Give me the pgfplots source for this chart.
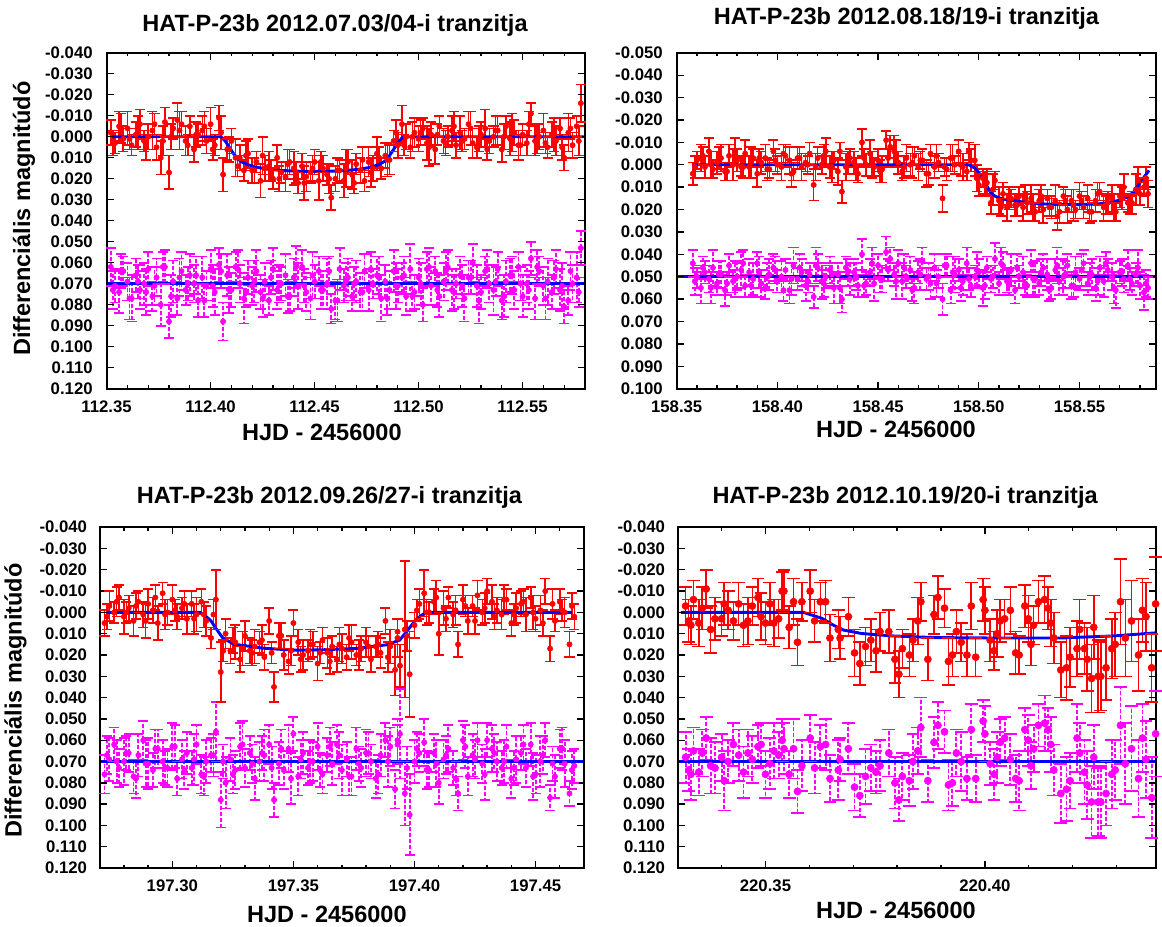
\documentclass[border=0pt]{standalone}
\usepackage{fontspec}
\setmainfont{Liberation Sans}
\usepackage{pgfplots}
\usepackage{pgfplotstable}
\pgfplotsset{compat=1.18}

\definecolor{pred}{RGB}{255,0,0}
\definecolor{pmag}{RGB}{255,0,255}
\definecolor{pblue}{RGB}{0,0,255}

\pgfplotstableread{
x r re m me
112.352 -0.002 0.006 0.062 0.009
112.354 0.003 0.005 0.071 0.008
112.356 -0.005 0.007 0.074 0.010
112.358 0.001 0.006 0.064 0.007
112.360 -0.004 0.008 0.069 0.009
112.362 0.004 0.005 0.077 0.011
112.364 -0.001 0.006 0.066 0.008
112.366 -0.006 0.007 0.073 0.009
112.368 0.002 0.005 0.070 0.010
112.370 0.000 0.006 0.063 0.008
112.372 -0.003 0.009 0.076 0.007
112.374 0.005 0.006 0.067 0.009
112.376 0.010 0.008 0.080 0.010
112.378 -0.007 0.007 0.062 0.008
112.380 0.017 0.008 0.088 0.008
112.382 -0.004 0.005 0.069 0.010
112.384 -0.008 0.008 0.077 0.008
112.386 -0.006 0.006 0.064 0.009
112.388 0.002 0.007 0.073 0.007
112.390 -0.005 0.005 0.066 0.010
112.392 0.006 0.006 0.070 0.009
112.394 -0.001 0.005 0.078 0.008
112.396 -0.003 0.007 0.067 0.010
112.398 0.002 0.006 0.071 0.007
112.400 -0.006 0.008 0.063 0.009
112.402 0.004 0.005 0.074 0.011
112.404 -0.009 0.006 0.061 0.008
112.406 0.018 0.008 0.088 0.009
112.408 0.006 0.005 0.066 0.010
112.410 0.002 0.006 0.073 0.008
112.412 0.010 0.009 0.062 0.007
112.414 0.010 0.006 0.070 0.009
112.416 0.016 0.005 0.077 0.012
112.418 0.008 0.007 0.067 0.008
112.420 0.016 0.006 0.071 0.009
112.422 0.012 0.005 0.064 0.010
112.424 0.021 0.008 0.074 0.008
112.426 0.015 0.006 0.069 0.009
112.428 0.014 0.007 0.078 0.007
112.430 0.020 0.005 0.063 0.010
112.432 0.010 0.006 0.073 0.009
112.434 0.017 0.005 0.070 0.008
112.436 0.019 0.007 0.066 0.010
112.438 0.012 0.006 0.076 0.007
112.440 0.015 0.008 0.067 0.009
112.442 0.022 0.005 0.071 0.011
112.444 0.014 0.006 0.062 0.008
112.446 0.019 0.007 0.074 0.009
112.448 0.017 0.005 0.077 0.010
112.450 0.012 0.006 0.069 0.008
112.452 0.021 0.009 0.064 0.007
112.454 0.015 0.006 0.073 0.009
112.456 0.018 0.005 0.070 0.012
112.458 0.029 0.006 0.082 0.007
112.460 0.020 0.006 0.078 0.009
112.462 0.016 0.005 0.063 0.010
112.464 0.021 0.008 0.071 0.008
112.466 0.012 0.006 0.067 0.009
112.468 0.018 0.007 0.076 0.007
112.470 0.013 0.005 0.069 0.010
112.472 0.016 0.006 0.074 0.009
112.474 0.021 0.005 0.064 0.008
112.476 0.012 0.007 0.073 0.010
112.478 0.015 0.006 0.070 0.007
112.480 0.008 0.008 0.066 0.009
112.482 0.015 0.005 0.077 0.011
112.484 0.009 0.006 0.069 0.008
112.486 0.011 0.007 0.073 0.009
112.488 0.002 0.005 0.064 0.010
112.490 0.004 0.006 0.071 0.008
112.492 -0.006 0.009 0.067 0.007
112.494 0.000 0.006 0.076 0.009
112.496 0.005 0.005 0.063 0.012
112.498 -0.002 0.007 0.074 0.008
112.500 0.001 0.006 0.067 0.009
112.502 -0.004 0.005 0.080 0.008
112.504 0.003 0.008 0.063 0.008
112.506 -0.001 0.006 0.071 0.009
112.508 0.006 0.007 0.064 0.007
112.510 -0.005 0.005 0.076 0.010
112.512 0.002 0.006 0.069 0.009
112.514 0.000 0.005 0.062 0.008
112.516 -0.003 0.007 0.073 0.010
112.518 0.004 0.006 0.070 0.007
112.520 -0.002 0.008 0.066 0.009
112.522 0.001 0.005 0.077 0.011
112.524 -0.006 0.006 0.067 0.008
112.526 0.003 0.007 0.060 0.009
112.528 0.005 0.005 0.071 0.010
112.530 -0.001 0.006 0.074 0.008
112.532 -0.004 0.009 0.064 0.007
112.534 0.002 0.006 0.070 0.009
112.536 0.000 0.005 0.073 0.012
112.538 -0.003 0.007 0.063 0.008
112.540 0.006 0.006 0.078 0.009
112.542 -0.005 0.005 0.069 0.010
112.544 0.001 0.008 0.066 0.008
112.546 -0.002 0.006 0.073 0.009
112.548 0.004 0.007 0.062 0.007
112.550 -0.001 0.005 0.076 0.010
112.552 0.003 0.006 0.070 0.009
112.554 -0.011 0.005 0.058 0.008
112.556 0.002 0.007 0.077 0.010
112.558 0.000 0.006 0.064 0.007
112.560 -0.003 0.008 0.071 0.009
112.562 0.005 0.005 0.069 0.011
112.564 -0.001 0.006 0.074 0.008
112.566 0.002 0.007 0.063 0.009
112.568 -0.004 0.005 0.073 0.010
112.570 0.010 0.006 0.081 0.008
112.572 -0.002 0.009 0.078 0.007
112.574 0.004 0.006 0.070 0.009
112.576 -0.005 0.005 0.067 0.012
112.578 -0.016 0.009 0.053 0.008
112.353 0.003 0.006 0.073 0.009
112.357 -0.004 0.007 0.064 0.008
112.361 0.001 0.005 0.077 0.010
112.365 -0.002 0.008 0.069 0.008
112.369 0.005 0.006 0.074 0.011
112.373 -0.006 0.005 0.071 0.009
112.377 0.002 0.007 0.062 0.007
112.381 0.000 0.006 0.076 0.010
112.385 -0.003 0.009 0.067 0.009
112.389 0.004 0.005 0.070 0.008
112.393 -0.001 0.006 0.066 0.009
112.397 -0.005 0.007 0.078 0.008
112.401 0.006 0.005 0.071 0.010
112.405 -0.002 0.008 0.064 0.008
112.409 0.006 0.006 0.073 0.011
112.413 0.014 0.005 0.063 0.009
112.417 0.009 0.007 0.074 0.007
112.421 0.016 0.006 0.069 0.010
112.425 0.009 0.009 0.077 0.009
112.429 0.016 0.005 0.067 0.008
112.433 0.020 0.006 0.070 0.009
112.437 0.013 0.007 0.076 0.008
112.441 0.017 0.005 0.062 0.010
112.445 0.022 0.008 0.071 0.008
112.449 0.015 0.006 0.066 0.011
112.453 0.012 0.005 0.073 0.009
112.457 0.020 0.007 0.064 0.007
112.461 0.016 0.006 0.078 0.010
112.465 0.015 0.009 0.069 0.009
112.469 0.022 0.005 0.070 0.008
112.473 0.011 0.006 0.074 0.009
112.477 0.017 0.007 0.063 0.008
112.481 0.010 0.005 0.067 0.010
112.485 0.011 0.008 0.077 0.008
112.489 -0.002 0.006 0.071 0.011
112.493 0.004 0.005 0.066 0.009
112.497 0.000 0.007 0.076 0.007
112.501 -0.002 0.006 0.070 0.010
112.505 0.005 0.009 0.062 0.009
112.509 -0.001 0.005 0.073 0.008
112.513 0.003 0.006 0.064 0.009
112.517 -0.005 0.007 0.074 0.008
112.521 0.002 0.005 0.071 0.010
112.525 -0.004 0.008 0.067 0.008
112.529 0.001 0.006 0.078 0.011
112.533 0.006 0.005 0.063 0.009
112.537 -0.003 0.007 0.069 0.007
112.541 0.000 0.006 0.076 0.010
112.545 -0.002 0.009 0.066 0.009
112.549 0.004 0.005 0.070 0.008
112.553 -0.006 0.006 0.073 0.009
112.557 0.001 0.007 0.062 0.008
112.561 0.003 0.005 0.077 0.010
112.565 -0.001 0.008 0.067 0.008
112.569 0.005 0.006 0.071 0.011
112.573 -0.004 0.005 0.064 0.009
112.577 0.002 0.007 0.074 0.007
}\dataA

\pgfplotstableread{
x r re m me
158.358 0.004 0.005 0.044 0.006
158.360 -0.002 0.004 0.050 0.005
158.362 -0.003 0.006 0.055 0.007
158.364 0.001 0.005 0.048 0.005
158.366 -0.006 0.006 0.051 0.006
158.368 0.002 0.004 0.046 0.008
158.370 -0.001 0.005 0.053 0.005
158.372 -0.003 0.006 0.049 0.006
158.374 0.003 0.004 0.056 0.007
158.376 -0.004 0.005 0.045 0.005
158.378 0.000 0.007 0.052 0.005
158.380 -0.002 0.005 0.050 0.006
158.382 0.001 0.004 0.047 0.008
158.384 -0.005 0.006 0.054 0.005
158.386 0.001 0.005 0.048 0.006
158.388 -0.003 0.004 0.051 0.007
158.390 0.004 0.006 0.044 0.005
158.392 -0.001 0.005 0.053 0.006
158.394 -0.003 0.006 0.055 0.005
158.396 0.002 0.004 0.049 0.007
158.398 -0.006 0.005 0.046 0.006
158.400 0.000 0.004 0.052 0.005
158.402 0.001 0.006 0.050 0.007
158.404 -0.004 0.005 0.047 0.005
158.406 -0.002 0.006 0.056 0.006
158.408 0.003 0.004 0.045 0.008
158.410 -0.003 0.005 0.051 0.005
158.412 0.001 0.006 0.048 0.006
158.414 -0.001 0.004 0.054 0.007
158.416 -0.005 0.005 0.049 0.005
158.418 0.009 0.007 0.059 0.005
158.420 -0.003 0.005 0.046 0.006
158.422 0.000 0.004 0.052 0.008
158.424 -0.006 0.006 0.050 0.005
158.426 0.001 0.005 0.047 0.006
158.428 -0.002 0.004 0.055 0.007
158.430 0.003 0.006 0.049 0.005
158.432 0.012 0.005 0.060 0.006
158.434 0.001 0.006 0.046 0.005
158.436 -0.003 0.004 0.051 0.007
158.438 -0.001 0.005 0.048 0.006
158.440 0.004 0.004 0.054 0.005
158.442 -0.010 0.006 0.040 0.007
158.444 0.000 0.005 0.053 0.005
158.446 -0.005 0.006 0.048 0.006
158.448 0.001 0.004 0.053 0.008
158.450 -0.002 0.005 0.045 0.005
158.452 0.002 0.006 0.051 0.006
158.454 -0.011 0.004 0.039 0.007
158.456 -0.008 0.005 0.042 0.005
158.458 -0.006 0.007 0.049 0.005
158.460 -0.001 0.005 0.044 0.006
158.462 0.003 0.004 0.052 0.008
158.464 -0.003 0.006 0.050 0.005
158.466 0.000 0.005 0.047 0.006
158.468 -0.004 0.004 0.055 0.007
158.470 0.001 0.006 0.048 0.005
158.472 -0.002 0.005 0.043 0.006
158.474 0.004 0.006 0.051 0.005
158.476 -0.005 0.004 0.053 0.007
158.478 0.001 0.005 0.046 0.006
158.480 -0.001 0.004 0.050 0.005
158.482 0.015 0.006 0.060 0.007
158.484 0.002 0.005 0.045 0.005
158.486 -0.003 0.006 0.056 0.006
158.488 0.000 0.004 0.049 0.008
158.490 -0.006 0.005 0.047 0.005
158.492 0.001 0.006 0.052 0.006
158.494 0.003 0.004 0.044 0.007
158.496 -0.002 0.005 0.054 0.005
158.498 -0.002 0.007 0.050 0.005
158.500 0.009 0.005 0.048 0.006
158.502 0.006 0.004 0.055 0.008
158.504 0.008 0.006 0.046 0.005
158.506 0.017 0.005 0.051 0.006
158.508 0.007 0.004 0.042 0.007
158.510 0.016 0.006 0.053 0.005
158.512 0.013 0.005 0.045 0.006
158.514 0.019 0.006 0.052 0.005
158.516 0.015 0.004 0.047 0.007
158.518 0.018 0.005 0.056 0.006
158.520 0.014 0.004 0.050 0.005
158.522 0.019 0.006 0.048 0.007
158.524 0.017 0.005 0.054 0.005
158.526 0.015 0.006 0.044 0.006
158.528 0.021 0.004 0.051 0.008
158.530 0.016 0.005 0.053 0.005
158.532 0.020 0.006 0.046 0.006
158.534 0.015 0.004 0.049 0.007
158.536 0.019 0.005 0.055 0.005
158.538 0.016 0.007 0.047 0.005
158.540 0.021 0.005 0.052 0.006
158.542 0.014 0.004 0.050 0.008
158.544 0.020 0.006 0.045 0.005
158.546 0.016 0.005 0.054 0.006
158.548 0.020 0.004 0.048 0.007
158.550 0.014 0.006 0.051 0.005
158.552 0.019 0.005 0.044 0.006
158.554 0.015 0.006 0.053 0.005
158.556 0.021 0.004 0.049 0.007
158.558 0.016 0.005 0.055 0.006
158.560 0.012 0.004 0.046 0.005
158.562 0.019 0.006 0.052 0.007
158.564 0.017 0.005 0.047 0.005
158.566 0.015 0.006 0.050 0.006
158.568 0.021 0.004 0.056 0.008
158.570 0.014 0.005 0.048 0.005
158.572 0.010 0.006 0.051 0.006
158.574 0.017 0.004 0.045 0.007
158.576 0.017 0.005 0.053 0.005
158.578 0.011 0.007 0.049 0.005
158.580 0.013 0.005 0.054 0.006
158.582 0.010 0.004 0.057 0.008
158.584 0.013 0.006 0.055 0.005
158.359 0.001 0.005 0.052 0.006
158.363 -0.004 0.004 0.046 0.005
158.367 0.000 0.006 0.055 0.007
158.371 -0.003 0.005 0.049 0.006
158.375 0.003 0.004 0.053 0.005
158.379 -0.006 0.006 0.051 0.008
158.383 0.001 0.005 0.044 0.006
158.387 -0.001 0.007 0.054 0.005
158.391 -0.003 0.004 0.048 0.007
158.395 0.002 0.005 0.050 0.006
158.399 -0.002 0.005 0.047 0.006
158.403 -0.005 0.004 0.056 0.005
158.407 0.004 0.006 0.051 0.007
158.411 -0.003 0.005 0.046 0.006
158.415 0.000 0.004 0.052 0.005
158.419 0.001 0.006 0.045 0.008
158.423 -0.004 0.005 0.053 0.006
158.427 0.001 0.007 0.049 0.005
158.431 -0.006 0.004 0.055 0.007
158.435 -0.001 0.005 0.048 0.006
158.439 0.002 0.005 0.050 0.006
158.443 -0.003 0.004 0.054 0.005
158.447 0.000 0.006 0.044 0.007
158.451 0.003 0.005 0.051 0.006
158.455 -0.003 0.004 0.047 0.005
158.459 -0.005 0.006 0.052 0.008
158.463 0.001 0.005 0.046 0.006
158.467 -0.001 0.007 0.056 0.005
158.471 -0.002 0.004 0.049 0.007
158.475 0.004 0.005 0.050 0.006
158.479 -0.004 0.005 0.053 0.006
158.483 0.001 0.004 0.045 0.005
158.487 -0.003 0.006 0.048 0.007
158.491 0.000 0.005 0.055 0.006
158.495 -0.006 0.004 0.051 0.005
158.499 0.006 0.006 0.047 0.008
158.503 0.008 0.005 0.054 0.006
158.507 0.011 0.007 0.050 0.005
158.511 0.019 0.004 0.044 0.007
158.515 0.015 0.005 0.052 0.006
158.519 0.018 0.005 0.046 0.006
158.523 0.013 0.004 0.053 0.005
158.527 0.019 0.006 0.051 0.007
158.531 0.014 0.005 0.048 0.006
158.535 0.019 0.004 0.056 0.005
158.539 0.023 0.006 0.045 0.008
158.543 0.016 0.005 0.049 0.006
158.547 0.018 0.007 0.054 0.005
158.551 0.016 0.004 0.047 0.007
158.555 0.021 0.005 0.050 0.006
158.559 0.013 0.005 0.052 0.006
158.563 0.018 0.004 0.044 0.005
158.567 0.019 0.006 0.055 0.007
158.571 0.015 0.005 0.048 0.006
158.575 0.018 0.004 0.051 0.005
158.579 0.007 0.006 0.046 0.008
158.583 0.006 0.005 0.053 0.006
}\dataB

\pgfplotstableread{
x r re m me
197.272 0.005 0.006 0.076 0.009
197.274 -0.003 0.007 0.069 0.010
197.276 0.000 0.005 0.062 0.008
197.278 -0.007 0.006 0.073 0.009
197.280 0.002 0.008 0.070 0.011
197.282 -0.002 0.006 0.066 0.009
197.284 0.004 0.007 0.077 0.008
197.286 -0.005 0.005 0.067 0.010
197.288 0.001 0.006 0.060 0.009
197.290 -0.004 0.007 0.071 0.012
197.292 -0.001 0.006 0.074 0.008
197.294 0.005 0.008 0.064 0.009
197.296 -0.009 0.005 0.070 0.010
197.298 0.000 0.006 0.073 0.009
197.300 -0.006 0.007 0.063 0.011
197.302 0.002 0.006 0.078 0.008
197.304 -0.002 0.005 0.069 0.009
197.306 0.003 0.007 0.066 0.010
197.308 -0.004 0.006 0.073 0.008
197.310 0.001 0.008 0.062 0.009
197.312 -0.005 0.006 0.076 0.009
197.314 0.004 0.007 0.070 0.010
197.316 0.012 0.005 0.067 0.008
197.318 -0.006 0.014 0.056 0.014
197.320 0.028 0.014 0.088 0.013
197.322 0.010 0.007 0.080 0.012
197.324 0.018 0.006 0.069 0.010
197.326 0.014 0.008 0.074 0.009
197.328 0.022 0.006 0.063 0.011
197.330 0.011 0.007 0.073 0.009
197.332 0.018 0.006 0.066 0.008
197.334 0.016 0.008 0.078 0.010
197.336 0.014 0.005 0.070 0.009
197.338 0.021 0.006 0.067 0.012
197.340 0.004 0.006 0.062 0.009
197.342 0.035 0.007 0.088 0.008
197.344 0.011 0.006 0.071 0.010
197.346 0.020 0.007 0.074 0.009
197.348 0.023 0.006 0.064 0.011
197.350 0.005 0.006 0.057 0.008
197.352 0.014 0.006 0.077 0.009
197.354 0.020 0.007 0.066 0.010
197.356 0.018 0.005 0.073 0.008
197.358 0.015 0.006 0.070 0.009
197.360 0.024 0.008 0.063 0.011
197.362 0.013 0.006 0.076 0.009
197.364 0.019 0.007 0.067 0.008
197.366 0.016 0.005 0.071 0.010
197.368 0.022 0.006 0.062 0.009
197.370 0.017 0.007 0.074 0.012
197.372 0.021 0.006 0.069 0.008
197.374 0.014 0.008 0.077 0.009
197.376 0.020 0.005 0.064 0.010
197.378 0.017 0.006 0.073 0.009
197.380 0.014 0.007 0.066 0.011
197.382 0.022 0.006 0.070 0.008
197.384 0.016 0.005 0.078 0.009
197.386 0.019 0.007 0.067 0.010
197.388 0.004 0.006 0.060 0.008
197.390 0.016 0.008 0.063 0.009
197.392 0.027 0.012 0.083 0.009
197.393 0.012 0.009 0.060 0.010
197.394 0.025 0.010 0.057 0.021
197.396 0.008 0.032 0.085 0.015
197.398 0.029 0.020 0.095 0.019
197.400 0.006 0.006 0.070 0.010
197.402 -0.004 0.007 0.066 0.009
197.404 -0.009 0.011 0.061 0.011
197.406 0.000 0.005 0.074 0.008
197.408 -0.005 0.006 0.066 0.009
197.410 0.010 0.010 0.080 0.010
197.412 -0.002 0.008 0.069 0.009
197.414 -0.007 0.005 0.064 0.011
197.416 0.001 0.006 0.073 0.008
197.418 0.015 0.006 0.085 0.008
197.420 -0.006 0.007 0.060 0.009
197.422 0.004 0.006 0.077 0.009
197.424 -0.003 0.005 0.067 0.010
197.426 -0.008 0.007 0.060 0.008
197.428 0.000 0.006 0.071 0.009
197.430 -0.010 0.006 0.060 0.008
197.432 -0.005 0.008 0.064 0.011
197.434 -0.001 0.006 0.070 0.009
197.436 0.001 0.007 0.073 0.008
197.438 -0.006 0.005 0.063 0.010
197.440 0.005 0.006 0.078 0.009
197.442 -0.002 0.007 0.069 0.011
197.444 -0.004 0.006 0.066 0.008
197.446 0.001 0.008 0.073 0.009
197.448 -0.007 0.005 0.062 0.010
197.450 0.003 0.006 0.076 0.009
197.452 -0.001 0.007 0.070 0.012
197.454 -0.010 0.006 0.060 0.008
197.456 0.017 0.006 0.087 0.006
197.458 0.004 0.005 0.077 0.010
197.460 -0.005 0.006 0.064 0.009
197.462 0.000 0.007 0.071 0.011
197.464 0.015 0.006 0.085 0.006
197.466 0.002 0.006 0.072 0.008
197.273 0.002 0.006 0.067 0.009
197.277 -0.005 0.007 0.070 0.010
197.281 0.000 0.005 0.066 0.008
197.285 -0.003 0.006 0.078 0.009
197.289 0.004 0.008 0.071 0.011
197.293 -0.007 0.006 0.064 0.009
197.297 0.001 0.007 0.073 0.008
197.301 -0.001 0.005 0.063 0.010
197.305 -0.004 0.006 0.074 0.009
197.309 0.003 0.007 0.069 0.012
197.313 0.001 0.006 0.077 0.009
197.317 0.001 0.007 0.067 0.010
197.321 0.018 0.005 0.070 0.008
197.325 0.013 0.006 0.076 0.009
197.329 0.017 0.008 0.062 0.011
197.333 0.019 0.006 0.071 0.009
197.337 0.013 0.007 0.066 0.008
197.341 0.019 0.005 0.073 0.010
197.345 0.011 0.006 0.064 0.009
197.349 0.018 0.007 0.078 0.012
197.353 0.022 0.006 0.069 0.009
197.357 0.015 0.007 0.070 0.010
197.361 0.019 0.005 0.074 0.008
197.365 0.023 0.006 0.063 0.009
197.369 0.015 0.008 0.067 0.011
197.373 0.012 0.006 0.077 0.009
197.377 0.020 0.007 0.071 0.008
197.381 0.016 0.005 0.066 0.010
197.385 0.015 0.006 0.076 0.009
197.389 0.021 0.007 0.070 0.012
197.393 0.009 0.006 0.062 0.009
197.397 0.011 0.007 0.073 0.010
197.401 -0.001 0.005 0.064 0.008
197.405 0.000 0.006 0.074 0.009
197.409 -0.007 0.008 0.071 0.011
197.413 0.003 0.006 0.067 0.009
197.417 -0.001 0.007 0.078 0.008
197.421 -0.003 0.005 0.063 0.010
197.425 0.004 0.006 0.069 0.009
197.429 -0.002 0.007 0.076 0.012
197.433 0.002 0.006 0.066 0.009
197.437 -0.006 0.007 0.070 0.010
197.441 0.001 0.005 0.073 0.008
197.445 -0.005 0.006 0.062 0.009
197.449 0.000 0.008 0.077 0.011
197.453 0.005 0.006 0.067 0.009
197.457 -0.004 0.007 0.071 0.008
197.461 -0.001 0.005 0.064 0.010
197.465 -0.003 0.006 0.074 0.009
}\dataC

\pgfplotstableread{
x r re m me
220.3318 -0.003 0.009 0.068 0.012
220.3325 0.004 0.010 0.074 0.010
220.3336 -0.006 0.009 0.065 0.011
220.3348 0.005 0.011 0.075 0.011
220.3365 -0.011 0.009 0.059 0.010
220.3385 0.003 0.010 0.073 0.012
220.3400 0.003 0.008 0.068 0.011
220.3406 -0.004 0.010 0.079 0.014
220.3427 0.004 0.009 0.062 0.010
220.3439 -0.004 0.010 0.067 0.012
220.3460 0.004 0.011 0.066 0.011
220.3483 -0.007 0.009 0.063 0.010
220.3500 0.005 0.010 0.076 0.011
220.3519 0.005 0.011 0.065 0.013
220.3538 -0.010 0.009 0.060 0.010
220.3542 -0.010 0.010 0.064 0.012
220.3554 0.007 0.010 0.076 0.011
220.3564 -0.005 0.011 0.064 0.014
220.3573 0.014 0.011 0.084 0.010
220.3583 -0.005 0.009 0.072 0.012
220.3602 -0.010 0.010 0.059 0.011
220.3625 -0.005 0.009 0.063 0.010
220.3637 -0.005 0.010 0.062 0.012
220.3647 0.012 0.011 0.078 0.011
220.3666 0.008 0.009 0.074 0.014
220.3670 0.012 0.010 0.069 0.010
220.3689 0.002 0.009 0.064 0.012
220.3703 0.019 0.011 0.082 0.011
220.3715 0.024 0.010 0.086 0.010
220.3728 0.016 0.009 0.077 0.013
220.3752 0.018 0.010 0.075 0.010
220.3761 0.009 0.009 0.072 0.012
220.3781 0.009 0.010 0.066 0.011
220.3804 0.029 0.011 0.088 0.010
220.3812 0.017 0.009 0.077 0.011
220.3828 0.020 0.010 0.079 0.012
220.3847 0.004 0.011 0.065 0.011
220.3854 -0.005 0.009 0.054 0.014
220.3870 0.022 0.010 0.079 0.010
220.3884 0.001 0.009 0.061 0.012
220.3893 -0.007 0.010 0.053 0.011
220.3908 -0.002 0.009 0.056 0.010
220.3917 0.023 0.011 0.081 0.012
220.3926 0.020 0.010 0.080 0.011
220.3946 0.014 0.009 0.070 0.014
220.3959 0.020 0.010 0.078 0.010
220.3969 -0.003 0.011 0.055 0.012
220.3979 0.021 0.009 0.078 0.011
220.3996 -0.006 0.010 0.051 0.010
220.4000 -0.001 0.011 0.057 0.013
220.4012 0.013 0.010 0.071 0.010
220.4021 0.018 0.009 0.076 0.012
220.4035 0.004 0.010 0.061 0.011
220.4045 0.003 0.009 0.059 0.010
220.4058 -0.001 0.011 0.069 0.012
220.4070 0.019 0.010 0.078 0.011
220.4078 0.020 0.009 0.079 0.014
220.4091 -0.003 0.010 0.055 0.010
220.4099 0.003 0.011 0.060 0.012
220.4111 0.006 0.009 0.064 0.011
220.4122 -0.005 0.010 0.053 0.010
220.4136 -0.006 0.011 0.052 0.013
220.4144 -0.002 0.010 0.055 0.010
220.4157 0.012 0.012 0.074 0.012
220.4173 0.027 0.013 0.085 0.014
220.4186 0.026 0.015 0.083 0.015
220.4194 0.021 0.014 0.079 0.013
220.4210 0.017 0.013 0.059 0.016
220.4216 0.008 0.014 0.066 0.014
220.4227 0.017 0.012 0.075 0.015
220.4243 0.031 0.016 0.089 0.017
220.4248 0.007 0.015 0.068 0.015
220.4258 0.030 0.017 0.089 0.016
220.4264 0.030 0.016 0.089 0.017
220.4276 0.026 0.015 0.085 0.015
220.4289 0.017 0.014 0.076 0.016
220.4297 0.015 0.015 0.074 0.014
220.4309 -0.005 0.020 0.053 0.018
220.4334 0.004 0.019 0.064 0.020
220.4359 -0.001 0.015 0.059 0.016
220.4367 0.002 0.016 0.069 0.018
220.4380 0.026 0.016 0.087 0.019
220.4389 -0.004 0.022 0.057 0.020
220.3330 0.006 0.009 0.076 0.012
220.3356 -0.002 0.010 0.066 0.011
220.3375 0.008 0.011 0.072 0.013
220.3415 -0.001 0.009 0.070 0.010
220.3450 0.006 0.010 0.075 0.012
220.3470 -0.003 0.009 0.069 0.011
220.3490 0.002 0.011 0.062 0.010
220.3510 -0.004 0.010 0.071 0.012
220.3530 0.003 0.009 0.067 0.011
220.3612 0.004 0.010 0.073 0.012
220.3740 0.013 0.010 0.073 0.011
220.3795 0.022 0.011 0.080 0.012
220.3836 0.013 0.010 0.070 0.013
220.3935 0.009 0.010 0.066 0.011
220.4028 0.010 0.011 0.068 0.012
220.4105 0.015 0.010 0.072 0.011
220.4150 0.005 0.011 0.062 0.013
220.4233 0.022 0.015 0.081 0.016
220.4320 0.012 0.018 0.071 0.019
220.4350 0.020 0.017 0.078 0.018
}\dataD

\pgfplotsset{
  lc/.style={
    scale only axis, anchor=south west, y dir=reverse, axis on top,
    axis line style={line width=1.5pt, black},
    tick align=inside,
    major tick length=5.25pt, minor tick length=2.6pt,
    every tick/.style={black, line width=1pt},
    scaled ticks=false,
    tick label style={font=\fontsize{12.6}{14}\selectfont\bfseries},
    yticklabel style={xshift=-7pt, /pgf/number format/fixed, /pgf/number format/fixed zerofill, /pgf/number format/precision=3, /pgf/number format/assume math mode=true},
    xticklabel style={yshift=-5.5pt, /pgf/number format/fixed, /pgf/number format/fixed zerofill, /pgf/number format/precision=2, /pgf/number format/assume math mode=true},
    clip=true,
  },
  redpts/.style={only marks, mark=*, mark size=#1, draw=pred, fill=pred, color=pred,
    mark options={fill=pred, draw=pred, solid},
    error bars/.cd, y dir=both, y explicit, error mark=none,
    error bar style={draw=pred, line width=1.2pt, solid}},
  magpts/.style={only marks, mark=*, mark size=#1, draw=pmag, fill=pmag, color=pmag,
    mark options={fill=pmag, draw=pmag, solid},
    error bars/.cd, y dir=both, y explicit, error mark=none,
    error bar style={draw=pmag, line width=1.4pt, dash pattern=on 3pt off 1.5pt, line cap=butt}},
  redcap/.style={only marks, mark=-, mark size=#1, color=pred, mark options={draw=pred, line width=1.2pt, solid}},
  magcap/.style={only marks, mark=-, mark size=#1, color=pmag, mark options={draw=pmag, line width=1.3pt, solid}},
  fitline/.style={pblue, line width=2.2pt, no marks},
}

\newcommand{\bigfont}{\fontsize{17.7}{20}\selectfont\bfseries}

\begin{document}
\begin{tikzpicture}
\path (0pt,0pt) rectangle (871.5pt,-697.5pt);

% ---------- Panel 1 ----------
\begin{axis}[lc, at={(80.25pt,-292.5pt)}, width=360pt, height=252.75pt,
  xmin=112.35, xmax=112.58, ymin=-0.04, ymax=0.12,
  xtick={112.35,112.40,112.45,112.50,112.55},
  minor xtick={112.36,112.37,112.38,112.39,112.41,112.42,112.43,112.44,112.46,112.47,112.48,112.49,112.51,112.52,112.53,112.54,112.56,112.57},
  ytick={-0.04,-0.03,-0.02,-0.01,0,0.01,0.02,0.03,0.04,0.05,0.06,0.07,0.08,0.09,0.10,0.11,0.12}]
\addplot[magpts=2pt] table[x=x, y=m, y error=me] {\dataA};
\addplot[magcap=3.8pt] table[x=x, y expr=\thisrow{m}+\thisrow{me}] {\dataA};
\addplot[magcap=3.8pt] table[x=x, y expr=\thisrow{m}-\thisrow{me}] {\dataA};
\addplot[redpts=2pt] table[x=x, y=r, y error=re] {\dataA};
\addplot[redcap=3.8pt] table[x=x, y expr=\thisrow{r}+\thisrow{re}] {\dataA};
\addplot[redcap=3.8pt] table[x=x, y expr=\thisrow{r}-\thisrow{re}] {\dataA};
\addplot[fitline] coordinates {(112.35,0.070) (112.58,0.070)};
\addplot[fitline] coordinates {(112.3525,0) (112.405,0) (112.407,0.002) (112.409,0.005) (112.411,0.008) (112.413,0.0105) (112.415,0.012) (112.418,0.0133) (112.422,0.0145) (112.428,0.0155) (112.435,0.0161) (112.445,0.0165) (112.455,0.0165) (112.465,0.0161) (112.472,0.0154) (112.477,0.0145) (112.481,0.0132) (112.484,0.0115) (112.486,0.009) (112.488,0.006) (112.490,0.003) (112.492,0.0005) (112.493,0) (112.58,0)};
\end{axis}

% ---------- Panel 2 ----------
\begin{axis}[lc, at={(509.25pt,-292.5pt)}, width=360.75pt, height=252.75pt,
  xmin=158.35, xmax=158.588, ymin=-0.05, ymax=0.10,
  xtick={158.35,158.40,158.45,158.50,158.55},
  minor xtick={158.36,158.37,158.38,158.39,158.41,158.42,158.43,158.44,158.46,158.47,158.48,158.49,158.51,158.52,158.53,158.54,158.56,158.57,158.58},
  ytick={-0.05,-0.04,-0.03,-0.02,-0.01,0,0.01,0.02,0.03,0.04,0.05,0.06,0.07,0.08,0.09,0.10}]
\addplot[magpts=2pt] table[x=x, y=m, y error=me] {\dataB};
\addplot[magcap=3.8pt] table[x=x, y expr=\thisrow{m}+\thisrow{me}] {\dataB};
\addplot[magcap=3.8pt] table[x=x, y expr=\thisrow{m}-\thisrow{me}] {\dataB};
\addplot[redpts=2pt] table[x=x, y=r, y error=re] {\dataB};
\addplot[redcap=3.8pt] table[x=x, y expr=\thisrow{r}+\thisrow{re}] {\dataB};
\addplot[redcap=3.8pt] table[x=x, y expr=\thisrow{r}-\thisrow{re}] {\dataB};
\addplot[fitline] coordinates {(158.35,0.050) (158.588,0.050)};
\addplot[fitline] coordinates {(158.358,0) (158.495,0) (158.498,0.0015) (158.500,0.0035) (158.502,0.0065) (158.504,0.0095) (158.506,0.0125) (158.508,0.014) (158.511,0.0151) (158.515,0.0158) (158.520,0.0164) (158.530,0.0174) (158.540,0.0178) (158.550,0.0178) (158.560,0.0174) (158.565,0.0168) (158.570,0.0158) (158.574,0.0143) (158.577,0.012) (158.580,0.008) (158.5845,0.0025)};
\end{axis}

% ---------- Panel 3 ----------
\begin{axis}[lc, at={(75pt,-653.25pt)}, width=364.5pt, height=256.5pt,
  xmin=197.27, xmax=197.47, ymin=-0.04, ymax=0.12,
  yticklabel style={xshift=1pt},
  xtick={197.30,197.35,197.40,197.45},
  minor xtick={197.28,197.29,197.31,197.32,197.33,197.34,197.36,197.37,197.38,197.39,197.41,197.42,197.43,197.44,197.46},
  ytick={-0.04,-0.03,-0.02,-0.01,0,0.01,0.02,0.03,0.04,0.05,0.06,0.07,0.08,0.09,0.10,0.11,0.12}]
\addplot[magpts=2pt] table[x=x, y=m, y error=me] {\dataC};
\addplot[magcap=3.8pt] table[x=x, y expr=\thisrow{m}+\thisrow{me}] {\dataC};
\addplot[magcap=3.8pt] table[x=x, y expr=\thisrow{m}-\thisrow{me}] {\dataC};
\addplot[redpts=2pt] table[x=x, y=r, y error=re] {\dataC};
\addplot[redcap=3.8pt] table[x=x, y expr=\thisrow{r}+\thisrow{re}] {\dataC};
\addplot[redcap=3.8pt] table[x=x, y expr=\thisrow{r}-\thisrow{re}] {\dataC};
\addplot[fitline] coordinates {(197.27,0.070) (197.47,0.070)};
\addplot[fitline] coordinates {(197.273,0) (197.3115,0) (197.314,0.002) (197.316,0.004) (197.318,0.0075) (197.3207,0.0118) (197.3253,0.0149) (197.3376,0.0168) (197.350,0.0177) (197.3607,0.0176) (197.376,0.0169) (197.3885,0.0152) (197.3939,0.013) (197.397,0.0086) (197.4008,0.0031) (197.4046,0) (197.465,0)};
\end{axis}

% ---------- Panel 4 ----------
\begin{axis}[lc, at={(510pt,-653.25pt)}, width=360pt, height=256.5pt,
  xmin=220.330, xmax=220.439, ymin=-0.04, ymax=0.12,
  yticklabel style={xshift=1pt},
  xtick={220.35,220.40},
  minor xtick={220.34,220.36,220.37,220.38,220.39,220.41,220.42,220.43},
  ytick={-0.04,-0.03,-0.02,-0.01,0,0.01,0.02,0.03,0.04,0.05,0.06,0.07,0.08,0.09,0.10,0.11,0.12}]
\addplot[magpts=2.7pt] table[x=x, y=m, y error=me] {\dataD};
\addplot[magcap=4.8pt] table[x=x, y expr=\thisrow{m}+\thisrow{me}] {\dataD};
\addplot[magcap=4.8pt] table[x=x, y expr=\thisrow{m}-\thisrow{me}] {\dataD};
\addplot[redpts=2.7pt] table[x=x, y=r, y error=re] {\dataD};
\addplot[redcap=4.8pt] table[x=x, y expr=\thisrow{r}+\thisrow{re}] {\dataD};
\addplot[redcap=4.8pt] table[x=x, y expr=\thisrow{r}-\thisrow{re}] {\dataD};
\addplot[fitline] coordinates {(220.330,0.070) (220.439,0.070)};
\addplot[fitline] coordinates {(220.3307,0) (220.3587,0) (220.3629,0.0028) (220.3655,0.006) (220.3678,0.0083) (220.3719,0.0099) (220.3785,0.011) (220.3884,0.0118) (220.4008,0.012) (220.4173,0.012) (220.4297,0.011) (220.4389,0.0096)};
\end{axis}

% ---------- Titles and labels ----------
\node[anchor=base west, inner sep=0pt, font=\bigfont] at (107pt,-24pt) {HAT-P-23b 2012.07.03/04-i tranzitja};
\node[anchor=base west, inner sep=0pt, font=\bigfont] at (537pt,-18.75pt) {HAT-P-23b 2012.08.18/19-i tranzitja};
\node[anchor=base west, inner sep=0pt, font=\bigfont] at (102.75pt,-378.75pt) {HAT-P-23b 2012.09.26/27-i tranzitja};
\node[anchor=base west, inner sep=0pt, font=\bigfont] at (536pt,-378.75pt) {HAT-P-23b 2012.10.19/20-i tranzitja};

\node[anchor=base, inner sep=0pt, font=\bigfont] at (242.25pt,-331.5pt) {HJD - 2456000};
\node[anchor=base, inner sep=0pt, font=\bigfont] at (674.25pt,-329.25pt) {HJD - 2456000};
\node[anchor=base, inner sep=0pt, font=\bigfont] at (246pt,-694.5pt) {HJD - 2456000};
\node[anchor=base, inner sep=0pt, font=\bigfont] at (674.25pt,-691.5pt) {HJD - 2456000};

\node[rotate=90, anchor=center, inner sep=0pt, font=\bigfont] at (18pt,-164.6pt) {Differenciális magnitúdó};
\node[rotate=90, anchor=center, inner sep=0pt, font=\bigfont] at (11.7pt,-527.25pt) {Differenciális magnitúdó};
\end{tikzpicture}
\end{document}
